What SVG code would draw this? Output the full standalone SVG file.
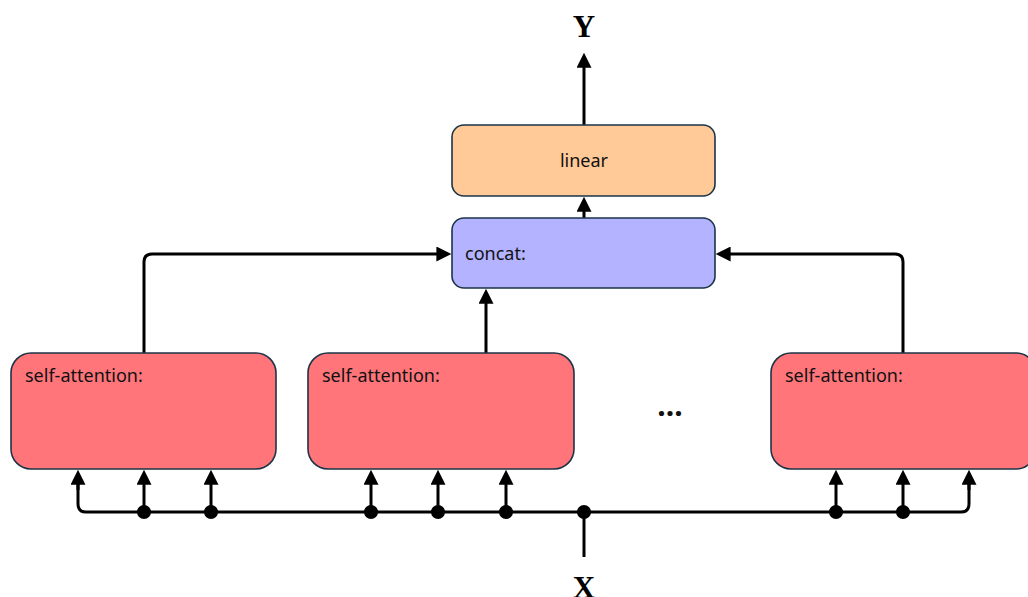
<svg xmlns="http://www.w3.org/2000/svg" width="1028" height="597" viewBox="0 0 1028 597">
<defs>
<marker id="ah" viewBox="0 0 16 16" refX="6" refY="8" markerWidth="16" markerHeight="15" orient="auto" markerUnits="userSpaceOnUse">
<path d="M0,0 L16,8 L0,16 z" fill="#000"/>
</marker>
</defs>
<style>
.box{stroke:#1b3447;stroke-width:1.6}
.sa{fill:#FF757A}
.lin{fill:#FFCA98}
.cat{fill:#B3B3FF}
.lbl{font-family:"Noto Sans","Liberation Sans",Arial,sans-serif;font-size:18px;fill:#111}
.var{font-family:"Liberation Serif","DejaVu Serif",serif;font-weight:bold;font-size:31px;fill:#000}
.c{fill:none;stroke:#000;stroke-width:3}
.a{marker-end:url(#ah)}
</style>
<rect width="1028" height="597" fill="#fff"/>
<g id="connectors">
<path class="c a" d="M584,125 V62"/>
<path class="c a" d="M584,218 V206"/>
<path class="c a" d="M144,353 V262 Q144,254 152,254 H442"/>
<path class="c a" d="M903,353 V262 Q903,254 895,254 H725"/>
<path class="c a" d="M486,353 V298"/>
<path class="c" d="M78,479 V504 Q78,512 86,512 H961 Q969,512 969,504 V479"/>
<path class="c" d="M584,512 V557"/>
<path class="c a" d="M78,490 V479"/>
<path class="c a" d="M144,512 V479"/>
<path class="c a" d="M211,512 V479"/>
<path class="c a" d="M371,512 V479"/>
<path class="c a" d="M438,512 V479"/>
<path class="c a" d="M506,512 V479"/>
<path class="c a" d="M836,512 V479"/>
<path class="c a" d="M903,512 V479"/>
<path class="c a" d="M969,490 V479"/>
<g fill="#000">
<circle cx="144" cy="512" r="7"/>
<circle cx="211" cy="512" r="7"/>
<circle cx="371" cy="512" r="7"/>
<circle cx="438" cy="512" r="7"/>
<circle cx="506" cy="512" r="7"/>
<circle cx="584" cy="512" r="7"/>
<circle cx="836" cy="512" r="7"/>
<circle cx="903" cy="512" r="7"/>
</g>
</g>
<g id="linear">
<rect class="box lin" x="452" y="125" width="263" height="71" rx="12"/>
<text class="lbl" x="584" y="167" text-anchor="middle">linear</text>
</g>
<g id="concat">
<rect class="box cat" x="452" y="218" width="263" height="70" rx="12"/>
<text class="lbl" x="465" y="260">concat:</text>
</g>
<g id="sa1">
<rect class="box sa" x="11" y="353" width="265" height="116" rx="20"/>
<text class="lbl" x="25" y="382">self-attention:</text>
</g>
<g id="sa2">
<rect class="box sa" x="308" y="353" width="266" height="116" rx="20"/>
<text class="lbl" x="322" y="382">self-attention:</text>
</g>
<g id="sa3">
<rect class="box sa" x="771" y="353" width="265" height="116" rx="20"/>
<text class="lbl" x="785" y="382">self-attention:</text>
</g>
<g id="ellipsis">
<text class="lbl" x="670" y="416" text-anchor="middle" style="font-size:30px;font-weight:bold">...</text>
</g>
<g id="Y">
<text class="var" x="584" y="37" text-anchor="middle">Y</text>
</g>
<g id="X">
<text class="var" x="584" y="598" text-anchor="middle">X</text>
</g>
</svg>
